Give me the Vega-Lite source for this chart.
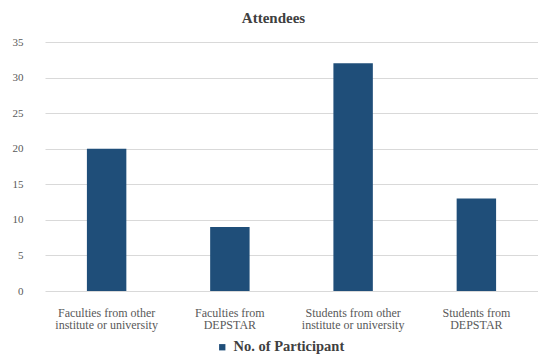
{
  "$schema": "https://vega.github.io/schema/vega-lite/v6.json",
  "width": 493,
  "height": 249,
  "autosize": {"type": "none"},
  "padding": {"left": 45, "top": 42, "right": 0, "bottom": 71},
  "background": "white",
  "title": {
    "text": "Attendees",
    "font": "Liberation Serif",
    "fontSize": 15,
    "fontWeight": "bold",
    "color": "#404040",
    "anchor": "middle",
    "dx": -18,
    "offset": 10
  },
  "data": {
    "values": [
      {"category": "Faculties from other|institute or university", "value": 20, "series": "No. of Participant"},
      {"category": "Faculties from|DEPSTAR", "value": 9, "series": "No. of Participant"},
      {"category": "Students from other|institute or university", "value": 32, "series": "No. of Participant"},
      {"category": "Students from|DEPSTAR", "value": 13, "series": "No. of Participant"}
    ]
  },
  "mark": {"type": "bar", "color": "#1f4e79"},
  "encoding": {
    "x": {
      "field": "category",
      "type": "nominal",
      "sort": null,
      "scale": {"paddingInner": 0.68, "paddingOuter": 0.34},
      "axis": {
        "title": null,
        "labelAngle": 0,
        "labelExpr": "split(datum.label, '|')",
        "labelFont": "Liberation Serif",
        "labelFontSize": 12,
        "labelColor": "#595959",
        "labelLineHeight": 12.5,
        "labelPadding": 16,
        "ticks": false,
        "domain": false
      }
    },
    "y": {
      "field": "value",
      "type": "quantitative",
      "scale": {"domain": [0, 35], "nice": false},
      "axis": {
        "title": null,
        "values": [0, 5, 10, 15, 20, 25, 30, 35],
        "labelFont": "Liberation Serif",
        "labelFontSize": 11,
        "labelColor": "#595959",
        "labelPadding": 22,
        "ticks": false,
        "domain": false,
        "gridColor": "#d9d9d9",
        "gridWidth": 1
      }
    },
    "color": {
      "field": "series",
      "type": "nominal",
      "scale": {"range": ["#1f4e79"]},
      "legend": {
        "title": null,
        "orient": "none",
        "legendX": 170,
        "legendY": 298,
        "symbolType": "square",
        "symbolSize": 40,
        "labelFont": "Liberation Serif",
        "labelFontSize": 14.5,
        "labelFontWeight": "bold",
        "labelColor": "#404040"
      }
    }
  },
  "config": {"view": {"stroke": null}}
}
